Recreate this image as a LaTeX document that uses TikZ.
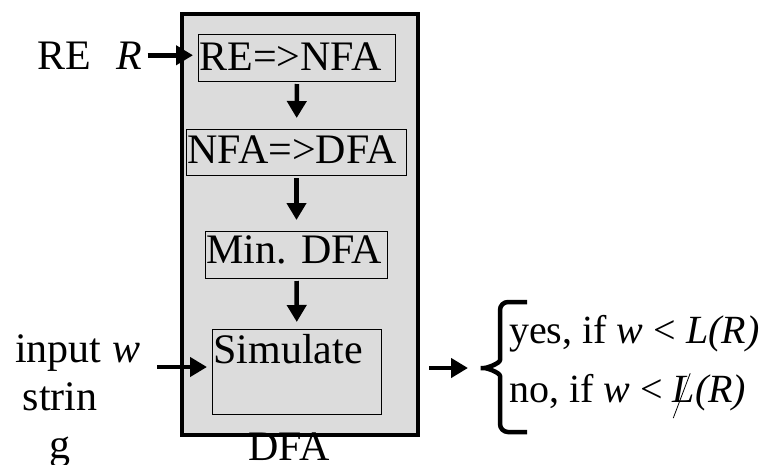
\documentclass[tikz,border=0pt]{standalone}
\usepackage{graphicx}
\usepackage{fontspec}
\setmainfont{Liberation Serif}
\usetikzlibrary{arrows.meta,positioning}
\definecolor{boxgray}{RGB}{220,220,220}
\newcommand{\bigtxt}{\fontsize{42}{48}\selectfont}
\newcommand{\outtxt}{\fontsize{40}{48}\selectfont}
\newcommand{\strikeL}{\makebox[0pt][l]{\raisebox{-16pt}{\rotatebox{-20.7}{\rule{0.8pt}{48pt}}}}L}

\begin{document}
\begin{tikzpicture}[x=1pt,y=-1pt,
    every node/.style={font=\bigtxt},
    stage/.style={draw,line width=1pt,inner sep=0pt,inner xsep=1pt,anchor=north west,align=left},
    txt/.style={inner sep=0pt,anchor=base west},
    arr/.style={line width=4.5pt,-{Triangle[width=19pt,length=17pt]}}]
  \useasboundingbox (0,0) rectangle (760,464);
  % outer DFA block
  \node[draw,line width=4pt,fill=boxgray,minimum width=236pt,minimum height=421pt,inner sep=0pt] (dfa) at (300,224.5) {};
  \node[anchor=base] (dfalbl) at (289,460) {DFA};
  % stages
  \node[stage,text width=195pt,text height=36pt,text depth=11pt] (renfa) at (198,34) {RE=>NFA};
  \node[stage,text width=218pt,text height=34pt,text depth=12pt] (nfadfa) at (186,129) {NFA=>DFA};
  \node[stage,text width=180pt,text height=32pt,text depth=15pt] (mindfa) at (205,231) {Min.\ DFA};
  \node[stage,text width=167pt,text height=34pt,text depth=51pt] (sim) at (212,329) {Simulate};
  \draw[arr,shorten <=2pt,shorten >=11pt] (renfa) -- (nfadfa);
  \draw[arr,shorten <=2pt,shorten >=11pt] (nfadfa) -- (mindfa);
  \draw[arr,shorten <=2pt,shorten >=7pt] (mindfa) -- (sim);
  % inputs
  \node[txt] (rein) at (37,69) {RE\hspace{26pt}\textit{R}};
  \draw[arr,shorten <=5pt,shorten >=5pt] (rein.east) -- (rein.east -| renfa.west);
  \node[txt] (inw) at (15,362) {input \textit{w}};
  \node[anchor=base,inner sep=0pt] (strn) at (60,410) {strin};
  \node[anchor=base,inner sep=0pt] (strg) at (60,458) {g};
  \coordinate (inarr) at (157,367);
  \draw[arr,shorten >=5pt] (inarr) -- (inarr -| sim.west);
  % output
  \coordinate (tip) at (476,368);
  \draw[arr,shorten <=9pt,shorten >=8pt] (dfa.east |- tip) -- (tip);
  \draw[line width=4.5pt,rounded corners=8pt] (527,302) -| (500,352) to[out=-90,in=0] (tip)
    to[out=0,in=90] (500,384) |- (527,432);
  \node[txt,font=\outtxt] (yes) at (509,343) {yes, if \textit{w} < \textit{L(R)}};
  \node[txt,font=\outtxt] (no) at (509,402) {no, if \textit{w} < \textit{\strikeL(R)}};
\end{tikzpicture}
\end{document}
